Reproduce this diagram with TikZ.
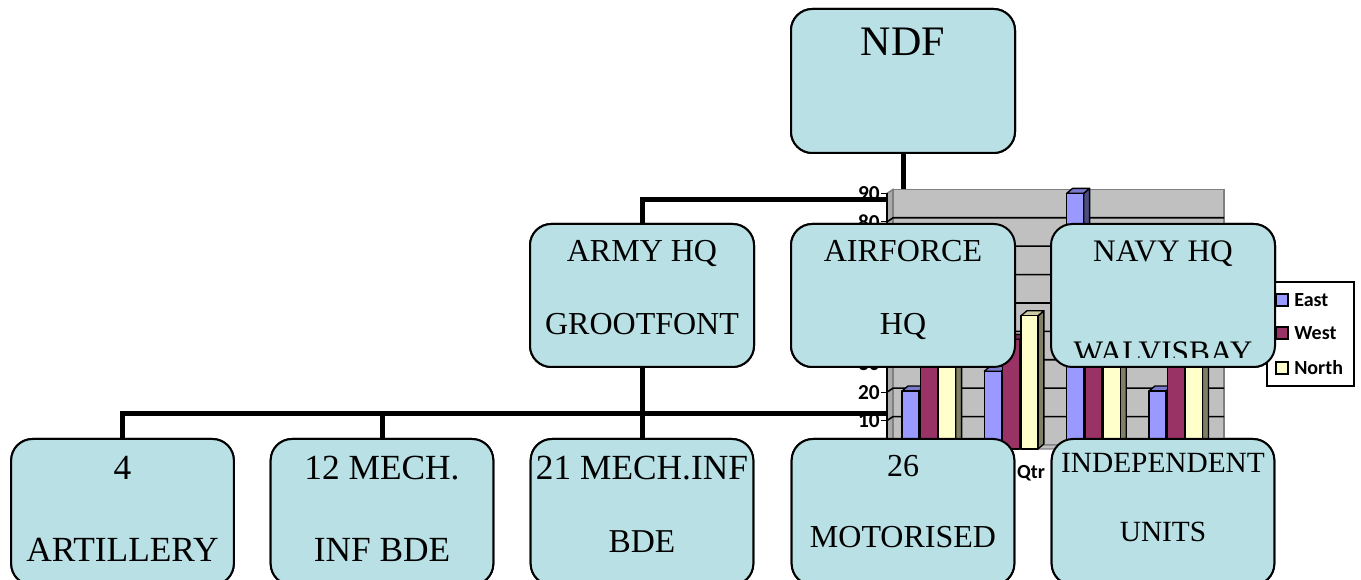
\documentclass[tikz,border=0pt]{standalone}
\usepackage{fontspec}
\setmainfont{Liberation Serif}
\newfontfamily\chartfont{Carlito}
\definecolor{boxfill}{RGB}{185,224,228}
\definecolor{wallgrey}{RGB}{192,192,192}
\definecolor{sidegrey}{RGB}{170,170,170}
\definecolor{wallborder}{RGB}{128,128,128}
\definecolor{fr0}{HTML}{9999FF}
\definecolor{sd0}{HTML}{4D4D80}
\definecolor{tp0}{HTML}{7A7ACC}
\definecolor{fr1}{HTML}{993366}
\definecolor{sd1}{HTML}{4D1A33}
\definecolor{tp1}{HTML}{7A2952}
\definecolor{fr2}{HTML}{FFFFCC}
\definecolor{sd2}{HTML}{808066}
\definecolor{tp2}{HTML}{CCCCA3}
\begin{document}
\begin{tikzpicture}[x=0.75pt,y=-0.75pt,
  box/.style={draw=black, line width=1.5pt, fill=boxfill, rounded corners=16pt,
    minimum width=168pt, minimum height=107.25pt, inner sep=0pt, outer sep=0pt},
  lowbox/.style={box, minimum width=167pt, minimum height=109.5pt},
  conn/.style={line width=3.75pt, black},
  lbl/.style={inner sep=0pt, anchor=base},
  ylab/.style={inner sep=0pt, anchor=east, font=\chartfont\bfseries\fontsize{16}{16}\selectfont},
  leglab/.style={inner sep=0pt, anchor=west, font=\chartfont\bfseries\fontsize{15}{15}\selectfont},
  gridln/.style={black, line width=1.2pt},
  barln/.style={black, line width=1pt, line join=round}]
\useasboundingbox (0,0) rectangle (1361,580);
\clip (0,0) rectangle (1361,580);

% boxes (positions)
\path (903,81) node[box, minimum height=108pt] (ndf) {};
\path (642,295.5) node[box] (army) {};
\path (903,295.5) node[box] (air) {};
\path (1163,295.5) node[box] (navy) {};
\path (122.5,512) node[lowbox] (art) {};
\path (382,512) node[lowbox] (m12) {};
\path (642,512) node[lowbox] (m21) {};
\path (903,512) node[lowbox] (mot) {};
\path (1163,512) node[lowbox] (ind) {};
\coordinate (bus1) at (0,200);
\coordinate (bus2) at (0,414);

% y axis labels
\node[ylab] (y90) at (880,193.4) {90};
\node[ylab] (y80) at (880,221.8) {80};
\node[ylab] (y30) at (880,363.8) {30};
\node[ylab] (y20) at (880,392.2) {20};
\node[ylab] (y10) at (880,420.6) {10};
\node[inner sep=0pt, font=\chartfont\bfseries\fontsize{15}{15}\selectfont] (qtr) at (1031,473) {Qtr};

% connectors
\draw[conn] (ndf.south) -- (ndf.south |- bus1);
\draw[conn] (army.north) -- (army.north |- bus1) -- (navy.north |- bus1) -- (navy.north);
\draw[conn] (air.north) -- (air.north |- bus1);
\draw[conn] (army.south) -- (army.south |- bus2);
\draw[conn] (art.north) -- (art.north |- bus2) -- (ind.north |- bus2) -- (ind.north);
\draw[conn] (m12.north) -- (m12.north |- bus2);
\draw[conn] (m21.north) -- (m21.north |- bus2);
\draw[conn] (mot.north) -- (mot.north |- bus2);

% chart walls
\filldraw[fill=sidegrey, draw=wallborder, line width=1.1pt] (887,449) -- (887,193.4) -- (893,189.4) -- (893,445) -- cycle;
\filldraw[fill=wallgrey, draw=wallborder, line width=1.1pt] (893,189.4) rectangle (1224,445);
\filldraw[fill=wallgrey, draw=wallborder, line width=1.1pt] (887,449) -- (893,445) -- (1224,445) -- (1218,449) -- cycle;
\foreach \v in {10,20,...,80} {
  \draw[gridln] (887,{449-2.84*\v}) -- (893,{445-2.84*\v}) -- (1224,{445-2.84*\v});
}
\draw[black, line width=1pt] (887,449) -- (887,193.4);
\foreach \v in {0,10,...,90} {
  \draw[black, line width=1pt] (881,{449-2.84*\v}) -- (887,{449-2.84*\v});
}

% bars
\foreach \g/\s/\v in {0/0/20.4, 0/1/30.6, 0/2/45.9, 1/0/27.4, 1/1/38.6, 1/2/46.9,
                       2/0/90, 2/1/34.6, 2/2/45, 3/0/20.4, 3/1/31.6, 3/2/43.9} {
  \pgfmathsetmacro\xa{902+82.3*\g+18.3*\s}
  \pgfmathsetmacro\xb{\xa+17}
  \pgfmathsetmacro\yt{449-2.84*\v}
  \filldraw[barln, fill=sd\s] (\xb,\yt) -- ({\xb+6},{\yt-5}) -- ({\xb+6},444) -- (\xb,449) -- cycle;
  \filldraw[barln, fill=tp\s] (\xa,\yt) -- ({\xa+6},{\yt-5}) -- ({\xb+6},{\yt-5}) -- (\xb,\yt) -- cycle;
  \filldraw[barln, fill=fr\s] (\xa,\yt) rectangle (\xb,449);
}

% legend
\filldraw[fill=white, draw=black, line width=1.1pt] (1267,282) rectangle (1354,386);
\filldraw[fill=fr0, draw=black, line width=1pt] (1276,294) rectangle (1288,306);
\filldraw[fill=fr1, draw=black, line width=1pt] (1276,327) rectangle (1288,339);
\filldraw[fill=fr2, draw=black, line width=1pt] (1276,362) rectangle (1288,374);
\node[leglab] (lgE) at (1294,300) {East};
\node[leglab] (lgW) at (1294,333) {West};
\node[leglab] (lgN) at (1294,368) {North};

% boxes drawn on top
\path (903,81) node[box, minimum height=108pt] {};
\path (642,295.5) node[box] {};
\path (903,295.5) node[box] {};
\path (1163,295.5) node[box] {};
\path (122.5,512) node[lowbox] {};
\path (382,512) node[lowbox] {};
\path (642,512) node[lowbox] {};
\path (903,512) node[lowbox] {};
\path (1163,512) node[lowbox] {};

% texts
\node[lbl, font=\fontsize{31.5}{31.5}\selectfont] (tndf) at (903,56) {NDF};
\node[lbl, font=\fontsize{24}{24}\selectfont] (ta1) at (642,262) {ARMY HQ};
\node[lbl, font=\fontsize{24}{24}\selectfont] (ta2) at (642,335) {GROOTFONT};
\node[lbl, font=\fontsize{24}{24}\selectfont] (tf1) at (903,262) {AIRFORCE};
\node[lbl, font=\fontsize{24}{24}\selectfont] (tf2) at (903,335) {HQ};
\node[lbl, font=\fontsize{23.5}{23.5}\selectfont] (tn1) at (1163,262) {NAVY HQ};
\begin{scope}
  \clip (1052,224) rectangle (1274,358);
  \node[lbl, font=\fontsize{23.5}{23.5}\selectfont] (tn2) at (1163,363) {WALVISBAY};
\end{scope}
\node[lbl, font=\fontsize{26.5}{26.5}\selectfont] (tr1) at (122.5,480) {4};
\node[lbl, font=\fontsize{26.5}{26.5}\selectfont] (tr2) at (122.5,562) {ARTILLERY};
\node[lbl, font=\fontsize{26.5}{26.5}\selectfont] (tm1) at (382,480) {12 MECH.};
\node[lbl, font=\fontsize{26.5}{26.5}\selectfont] (tm2) at (382,562) {INF BDE};
\node[lbl, font=\fontsize{26.5}{26.5}\selectfont] (tb1) at (642,480) {21 MECH.INF};
\node[lbl, font=\fontsize{25}{25}\selectfont] (tb2) at (642,553) {BDE};
\node[lbl, font=\fontsize{24}{24}\selectfont] (tt1) at (903,477) {26};
\node[lbl, font=\fontsize{24}{24}\selectfont] (tt2) at (903,548) {MOTORISED};
\node[lbl, font=\fontsize{22}{22}\selectfont] (ti1) at (1163,473) {INDEPENDENT};
\node[lbl, font=\fontsize{22}{22}\selectfont] (ti2) at (1163,542) {UNITS};
\end{tikzpicture}
\end{document}
